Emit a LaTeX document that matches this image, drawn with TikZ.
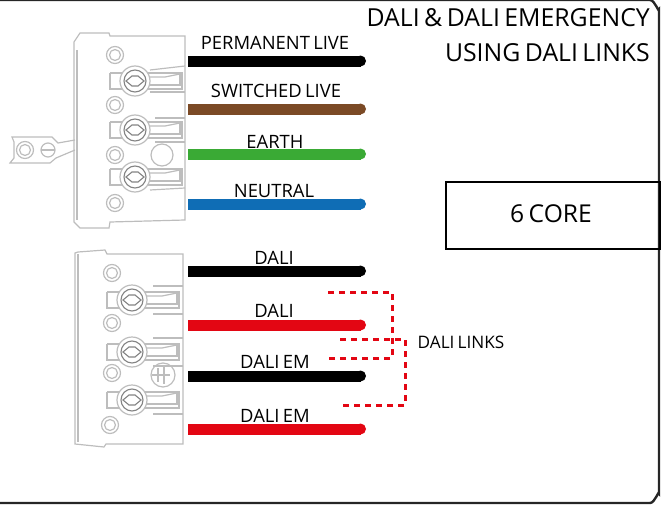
\documentclass[tikz,border=0pt]{standalone}
\usepackage{fontspec}
\setmainfont[WordSpace=0.7]{Open Sans}
\definecolor{wblack}{HTML}{000000}
\definecolor{wbrown}{HTML}{7B4A26}
\definecolor{wgreen}{HTML}{3AAA35}
\definecolor{wblue}{HTML}{0F6DB5}
\definecolor{wred}{HTML}{E30613}
\definecolor{part}{HTML}{BDBDBD}
\tikzset{
  wire/.style={line width=11pt},
  link/.style={draw=wred,line width=3pt,dash pattern=on 6pt off 5pt},
  lab/.style={inner sep=0pt,text=black,font=\fontsize{18.4}{18.4}\selectfont},
  part line/.style={draw=part,line width=1.2pt},
  part fine/.style={draw=part!70!black,line width=1.1pt},
}
\newcommand{\hole}[2]{%
  \draw[part line] (#1,#2) circle (8.5);
  \draw[part line] (#1,#2) circle (5.5);
}
\newcommand{\screw}[2]{%
  \draw[part line] (#1-25,#2-8) -- (#1-25,#2+8) -- (#1-13,#2+8);
  \draw[part line] (#1-25,#2-8) -- (#1-13,#2-8);
  \draw[part line] (#1+12,#2-8) -- (#1+47,#2-8) -- (#1+47,#2+8) -- (#1+12,#2+8);
  \draw[part line] (#1+12,#2-4) -- (#1+30,#2-4) -- (#1+45,#2-7);
  \draw[part line] (#1+12,#2+4) -- (#1+45,#2+4) -- (#1+45,#2-7);
  \draw[part line,fill=white] (#1,#2) circle (15);
  \draw[part fine] (#1,#2) circle (11);
  \draw[part fine] (#1-9,#2) -- (#1-3,#2-5) -- (#1+3,#2-5) -- (#1+9,#2) -- (#1+3,#2+5) -- (#1-3,#2+5) -- cycle;
}
\newcommand{\wirerun}[2]{%
  \draw[wire,#1] (#20) -- (#21);
  \fill[#1] (#21) circle (5.5);
}
\begin{document}
\begin{tikzpicture}[x=1pt,y=-1pt]
\useasboundingbox (0,0) rectangle (667,506);
% frame
\draw[line width=2.4pt,draw=black!85] (-5,0) -- (650,0) to[out=0,in=-90] (659,9) -- (659,494) to[out=90,in=0] (650,503) -- (-5,503);
% upper terminal block
\draw[part line] (74,50) -- (74,222) -- (80,228) -- (109,228) -- (110,222) -- (185,220) -- (185,36) -- (110,36) -- (109,33) -- (80,33) -- (74,42) -- cycle;
\draw[part line] (77,50) -- (77,220);
\foreach \yy in {55,105,155,203} {\hole{115}{\yy}}
\foreach \yy in {81,130,177} {\screw{135}{\yy}}
\draw[part line] (185,66) -- (150,70);
\draw[part line] (185,92) -- (150,92);
\draw[part line] (185,118) -- (155,118);
\draw[part line] (185,142) -- (155,142);
\draw[part line] (185,188) -- (150,190);
\draw[part line] (162,155) circle (11);
% ground lug
\draw[part line] (75,140) -- (58,143) -- (52,137) -- (12,137) -- (14,142) -- (14,158) -- (10,163) -- (50,163) -- (56,158) -- (75,150);
\draw[part line] (25,150) circle (8.5);
\draw[part line] (25,150) circle (5.5);
\draw[part line] (48,150) circle (7);
\draw[part line] (41,150) -- (55,150);
% lower terminal block
\draw[part line] (75,253) -- (75,444) -- (104,447) -- (106,444) -- (183,444) -- (183,254) -- (107,254) -- (105,250) -- (78,252) -- cycle;
\draw[part line] (78,254) -- (78,442);
\foreach \yy/\xx in {273/112,323/112,373/112,425/110} {\hole{\xx}{\yy}}
\foreach \yy in {300,352,400} {\screw{132}{\yy}}
\draw[part line] (153,286) -- (183,286);
\draw[part line] (153,314) -- (183,314);
\draw[part line] (153,338) -- (183,338);
\draw[part line] (153,366) -- (183,366);
\draw[part line] (153,414) -- (183,414);
\draw[part line] (163,375) circle (12);
\draw[part line] (158,368) -- (158,382);
\draw[part line] (152,375) -- (170,375);
\draw[part line] (164,366) -- (164,384);
% wire end points
\foreach \n/\yy in {a/61,b/109,c/154,d/204,e/271,f/325,g/376,h/429} {
  \coordinate (\n0) at (188,\yy);
  \coordinate (\n1) at (360.5,\yy);
}
\wirerun{wblack}{a}
\wirerun{wbrown}{b}
\wirerun{wgreen}{c}
\wirerun{wblue}{d}
\wirerun{wblack}{e}
\wirerun{wred}{f}
\wirerun{wblack}{g}
\wirerun{wred}{h}
% wire labels
\node[lab] (l1) at (275,43) {PERMANENT LIVE};
\node[lab] (l2) at (276,91) {SWITCHED LIVE};
\node[lab] (l3) at (275,142) {EARTH};
\node[lab] (l4) at (274,191) {NEUTRAL};
\node[lab] (l5) at (274,258) {DALI};
\node[lab] (l6) at (274,311) {DALI};
\node[lab] (l7) at (275,362) {DALI EM};
\node[lab] (l8) at (275,416) {DALI EM};
% links
\coordinate (p1) at (328,292); \coordinate (p2) at (392,292);
\coordinate (p3) at (392,358); \coordinate (p4) at (328,358);
\coordinate (q1) at (340,339); \coordinate (q2) at (405,339);
\coordinate (q3) at (405,405); \coordinate (q4) at (340,405);
\draw[link] (p1) -- (p2) -- (p3) -- (p4);
\draw[link] (q1) -- (q2) -- (q3) -- (q4);
\node[lab,font=\fontsize{17.2}{17.2}\selectfont] (dl) at (461,342) {DALI LINKS};
% title and core box
\node[lab,anchor=base east,font=\fontsize{24.8}{24.8}\selectfont] (t1) at (650,27) {DALI \& DALI EMERGENCY};
\node[lab,anchor=base east,font=\fontsize{24.8}{24.8}\selectfont] (t2) at (650,61) {USING DALI LINKS};
\node[draw=black,line width=2.4pt,minimum width=214,minimum height=67,anchor=north west,inner sep=0pt] (core) at (445,181) {};
\node[lab,font=\fontsize{24.6}{24.6}\selectfont] (c6) at (551,214) {6 CORE};
\end{tikzpicture}
\end{document}
